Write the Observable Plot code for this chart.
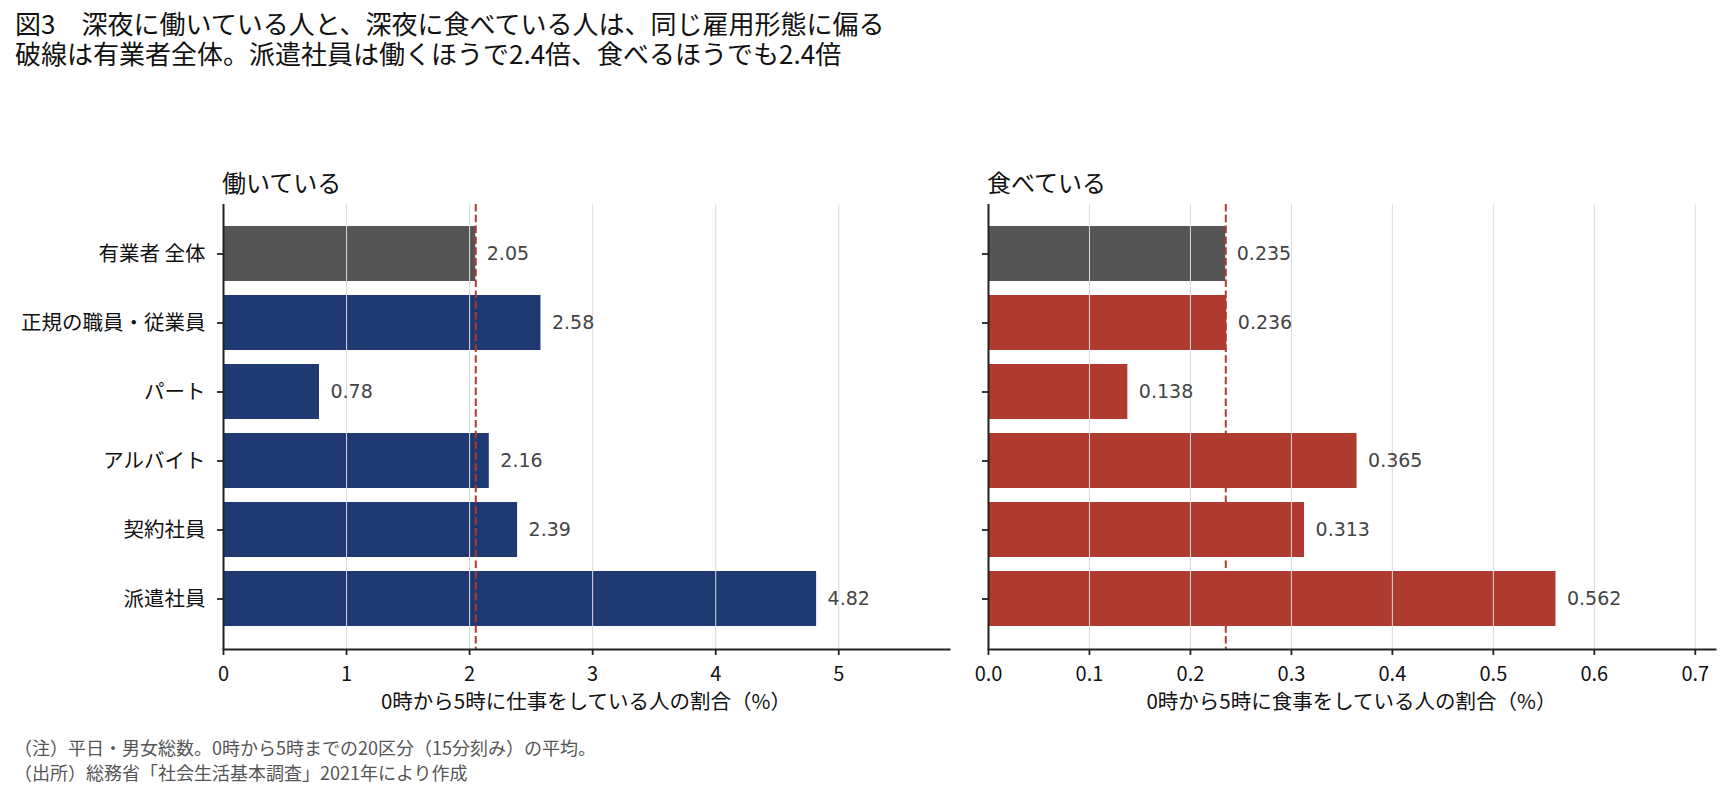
<!DOCTYPE html>
<html><head><meta charset="utf-8">
<script src="https://cdn.jsdelivr.net/npm/d3@7"></script>
<script src="https://cdn.jsdelivr.net/npm/@observablehq/plot@0.6"></script>
<style>
body{margin:0;background:#fff;width:1730px;height:795px;position:relative;overflow:hidden;font-family:"Noto Sans CJK JP",sans-serif;color:#111}
.t{position:absolute;white-space:nowrap;line-height:1}
#left,#right{position:absolute;top:0}
#left{left:0}
#right{left:960px}
</style></head><body>
<div id="left"></div><div id="right"></div>
<div class="t" style="left:15px;top:8.3px;font-size:26px;line-height:29.5px">図3　深夜に働いている人と、深夜に食べている人は、同じ雇用形態に偏る<br>破線は有業者全体。派遣社員は働くほうで2.4倍、食べるほうでも2.4倍</div>
<div class="t" style="left:222px;top:169.5px;font-size:24px">働いている</div>
<div class="t" style="left:987px;top:169.5px;font-size:24px">食べている</div>
<div class="t" style="left:586px;top:689.5px;font-size:20.5px;transform:translateX(-50%)">0時から5時に仕事をしている人の割合（%）</div>
<div class="t" style="left:1351.5px;top:689.5px;font-size:20.5px;transform:translateX(-50%)">0時から5時に食事をしている人の割合（%）</div>
<div class="t" style="left:14px;top:735px;font-size:18px;color:#555;line-height:25px">（注）平日・男女総数。0時から5時までの20区分（15分刻み）の平均。<br>（出所）総務省「社会生活基本調査」2021年により作成</div>
<script>
const categories = ["有業者 全体", "正規の職員・従業員", "パート", "アルバイト", "契約社員", "派遣社員"];
const workValues = [2.05, 2.58, 0.78, 2.16, 2.39, 4.82];
const eatValues = [0.235, 0.236, 0.138, 0.365, 0.313, 0.562];
const workTicks = [0, 1, 2, 3, 4, 5];
const eatTicks = [0, 0.1, 0.2, 0.3, 0.4, 0.5, 0.6, 0.7];
const workDomain = [0, 5.9];
const eatDomain = [0, 0.72];

const GRAY = "#555555", BLUE = "#1f3a72", RED = "#af3a2f", DASH = "#b03a2e", AXIS = "#222";

function panel({values, ticks, domain, color, fmt, tickFmt, showLabels, width, marginLeft, marginRight}) {
  const data = categories.map((c, i) => ({category: c, value: values[i]}));
  return Plot.plot({
    width, height: 795, marginTop: 204, marginBottom: 146, marginLeft, marginRight,
    style: {background: "transparent", fontFamily: "'Noto Sans CJK JP', sans-serif", color: "#111", overflow: "visible"},
    x: {domain, label: null},
    y: {type: "band", domain: categories, paddingInner: 0.2, paddingOuter: 0.29, label: null},
    marks: [
      Plot.barX(data, {x: "value", y: "category", fill: (d, i) => i === 0 ? GRAY : color}),
      Plot.gridX(ticks.filter(t => t > 0), {stroke: "#dcdcdc", strokeOpacity: 1, strokeWidth: 1}),
      Plot.ruleX([values[0]], {stroke: DASH, strokeWidth: 2, strokeDasharray: "7.5,3.3"}),
      Plot.text(data, {x: "value", y: "category", text: d => fmt(d.value), dx: 11, textAnchor: "start", fill: "#444", fontSize: 19, fontFamily: "DejaVu Sans"}),
      Plot.axisX({ticks, tickFormat: tickFmt, tickSize: 6, tickPadding: 11, fontSize: 20, label: null, stroke: AXIS, strokeWidth: 1.8}),
      Plot.axisY({tickSize: 6, tickPadding: 12, fontSize: 20.5, label: null, tickFormat: showLabels ? (d => d) : (() => ""), stroke: AXIS, strokeWidth: 1.8}),
      Plot.ruleX([domain[0]], {stroke: AXIS, strokeWidth: 2}),
      Plot.frame({anchor: "bottom", stroke: AXIS, strokeWidth: 2})
    ]
  });
}

document.getElementById("left").append(panel({
  values: workValues, ticks: workTicks, domain: workDomain, color: BLUE,
  fmt: v => v.toFixed(2), tickFmt: v => String(v), showLabels: true,
  width: 960, marginLeft: 223, marginRight: 11
}));
document.getElementById("right").append(panel({
  values: eatValues, ticks: eatTicks, domain: eatDomain, color: RED,
  fmt: v => v.toFixed(3), tickFmt: v => v.toFixed(1), showLabels: false,
  width: 770, marginLeft: 28, marginRight: 15
}));
</script>
</body></html>
